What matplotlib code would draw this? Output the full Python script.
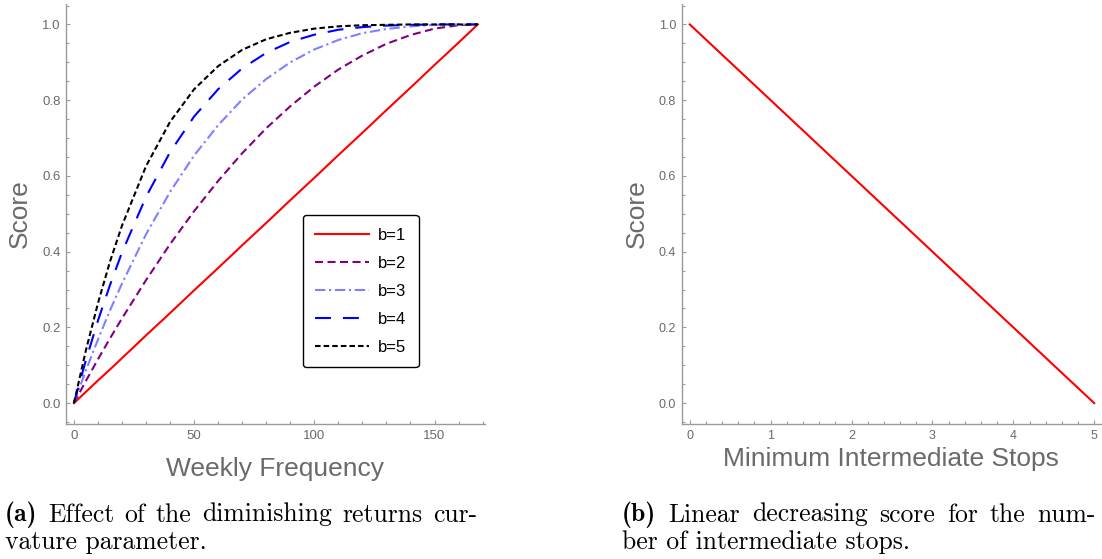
import matplotlib
matplotlib.use("Agg")
import matplotlib.pyplot as plt
from matplotlib.ticker import MultipleLocator

# --- Configuration ---
plt.rcParams.update({
    "font.family": "Liberation Sans",
    "lines.scale_dashes": False,
})

axis_gray = "#9a9a9a"
text_gray = "#6a6a6a"

# --- Data ---
weekly_freq = [0, 5, 10, 15, 20, 30, 40, 50, 60, 70, 80, 90, 100, 110, 120,
               130, 140, 150, 160, 168]
score_b1 = [0.0, 0.030, 0.060, 0.089, 0.119, 0.179, 0.238, 0.298, 0.357, 0.417,
            0.476, 0.536, 0.595, 0.655, 0.714, 0.774, 0.833, 0.893, 0.952, 1.0]
score_b2 = [0.0, 0.059, 0.116, 0.171, 0.224, 0.325, 0.420, 0.507, 0.587, 0.660,
            0.726, 0.784, 0.836, 0.881, 0.918, 0.949, 0.972, 0.989, 0.998, 1.0]
score_b3 = [0.0, 0.087, 0.168, 0.245, 0.316, 0.446, 0.558, 0.654, 0.734, 0.802,
            0.856, 0.900, 0.934, 0.959, 0.977, 0.988, 0.995, 0.999, 1.0, 1.0]
score_b4 = [0.0, 0.114, 0.218, 0.312, 0.398, 0.545, 0.663, 0.757, 0.829, 0.884,
            0.925, 0.954, 0.973, 0.986, 0.993, 0.997, 0.999, 1.0, 1.0, 1.0]
score_b5 = [0.0, 0.140, 0.264, 0.374, 0.469, 0.626, 0.743, 0.829, 0.890, 0.933,
            0.961, 0.978, 0.989, 0.995, 0.998, 0.999, 1.0, 1.0, 1.0, 1.0]

stops = [0, 5]
stops_score = [1.0, 0.0]

series = [
    ("b=1", score_b1, "#ff0000", None),
    ("b=2", score_b2, "#800080", (0, (5.8, 3.2))),
    ("b=3", score_b3, "#8080ff", (0, (7.5, 2.6, 1.6, 2.6))),
    ("b=4", score_b4, "#0000ff", (0, (11.5, 8.6))),
    ("b=5", score_b5, "#000000", (0, (4.0, 2.2))),
]


def style_axes(ax, tick_size):
    for side in ("top", "right"):
        ax.spines[side].set_visible(False)
    for side in ("left", "bottom"):
        ax.spines[side].set_color(axis_gray)
        ax.spines[side].set_linewidth(1.0)
    ax.tick_params(which="both", direction="in", color=axis_gray,
                   labelcolor=text_gray, labelsize=tick_size, width=0.8)
    ax.tick_params(which="major", length=3.2, pad=4)
    ax.tick_params(which="minor", length=2.0)
    ax.yaxis.set_major_locator(MultipleLocator(0.2))
    ax.yaxis.set_minor_locator(MultipleLocator(0.05))
    ax.yaxis.set_major_formatter(matplotlib.ticker.FormatStrFormatter("%.1f"))


fig = plt.figure(figsize=(11.02, 5.59), dpi=100)
W, H = 1102, 559

# --- Left panel ---
ax1 = fig.add_axes([66 / W, (H - 424) / H, 419 / W, 420 / H])
for label, ys, color, ls in series:
    line, = ax1.plot(weekly_freq, ys, color=color, lw=1.5, label=label)
    if ls is not None:
        line.set_linestyle(ls)
ax1.set_xlim(-3.3, 171)
ax1.set_ylim(-0.055, 1.054)
style_axes(ax1, 9.5)
ax1.xaxis.set_major_locator(MultipleLocator(50))
ax1.xaxis.set_minor_locator(MultipleLocator(10))
ax1.set_xlabel("Weekly Frequency", fontsize=19, color=text_gray, labelpad=11)
ax1.set_ylabel("Score", fontsize=19, color=text_gray, labelpad=7)

leg = ax1.legend(loc="upper left", bbox_to_anchor=(0.565, 0.4976),
                 borderaxespad=0, fontsize=12, handlelength=3.2,
                 handletextpad=0.55, labelspacing=0.78, borderpad=0.75,
                 fancybox=True, framealpha=1)
leg.get_frame().set_edgecolor("black")
leg.get_frame().set_linewidth(1.0)

# --- Right panel ---
ax2 = fig.add_axes([681.7 / W, (H - 424) / H, 419 / W, 420 / H])
ax2.plot(stops, stops_score, color="#ff0000", lw=1.5)
ax2.set_xlim(-0.1, 5.08)
ax2.set_ylim(-0.055, 1.054)
style_axes(ax2, 9)
ax2.xaxis.set_major_locator(MultipleLocator(1))
ax2.xaxis.set_minor_locator(MultipleLocator(0.2))
ax2.set_xlabel("Minimum Intermediate Stops", fontsize=19, color=text_gray, labelpad=4)
ax2.set_ylabel("Score", fontsize=19, color=text_gray, labelpad=7)

# --- Captions (first line justified like the LaTeX source) ---
cap_size = 18.5
captions = [
    (5, 477, "(a)", "Effect of the diminishing returns cur-", "vature parameter."),
    (622, 1096, "(b)", "Linear decreasing score for the num-", "ber of intermediate stops."),
]
fig.canvas.draw()
renderer = fig.canvas.get_renderer()
y1 = 1 - 521.5 / H
y2 = 1 - 548.5 / H
for x0, x1, tag, line1, line2 in captions:
    words = [(tag, "cmb10")] + [(w, "cmr10") for w in line1.split()]
    texts = [fig.text(0, y1, w, family=f, fontsize=cap_size, va="baseline", ha="left")
             for w, f in words]
    widths = [t.get_window_extent(renderer).width for t in texts]
    gap = (x1 - x0 - sum(widths)) / (len(texts) - 1)
    x = x0
    for t, w in zip(texts, widths):
        t.set_x(x / W)
        x += w + gap
    fig.text(x0 / W, y2, line2, family="cmr10", fontsize=cap_size,
             va="baseline", ha="left")

fig.savefig("out.png", dpi=100)
